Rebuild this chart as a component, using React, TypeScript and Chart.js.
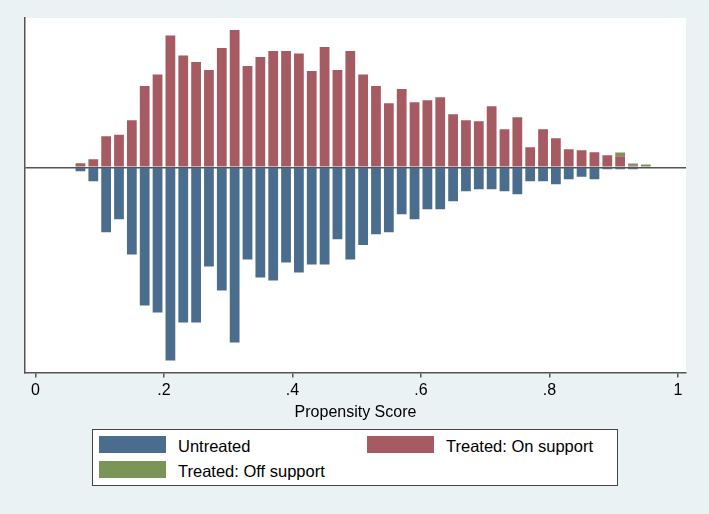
import React, { useEffect, useRef } from "react";
import { Chart, registerables } from "chart.js";

Chart.register(...registerables);

// Bin centres of the propensity-score histogram (bin width 0.02)
const binCenters = [
  0.07, 0.09, 0.11, 0.13, 0.15, 0.17, 0.19, 0.21, 0.23, 0.25,
  0.27, 0.29, 0.31, 0.33, 0.35, 0.37, 0.39, 0.41, 0.43, 0.45,
  0.47, 0.49, 0.51, 0.53, 0.55, 0.57, 0.59, 0.61, 0.63, 0.65,
  0.67, 0.69, 0.71, 0.73, 0.75, 0.77, 0.79, 0.81, 0.83, 0.85,
  0.87, 0.89, 0.91, 0.93, 0.95,
];

// Untreated frequencies (drawn below zero)
const untreated = [
  4, 14, 65, 52, 87, 138, 145, 193, 155, 155,
  99, 123, 175, 92, 110, 113, 95, 105, 97, 97,
  72, 92, 77.5, 67, 65, 47, 52, 42, 42, 34,
  24, 22, 22, 24, 27, 14, 14, 17, 12, 9.5,
  12, 2, 2, 2, 0,
];

// Treated, on support (drawn above zero)
const treatedOn = [
  4, 8, 31, 32.5, 47, 81, 92.5, 131.5, 111.5, 105,
  97, 119, 137, 101, 110, 116, 116, 113.5, 96, 120,
  97, 116, 92.5, 81, 64, 78, 65, 67, 70, 53,
  47, 46, 61, 38, 50, 20, 38, 29, 18, 17,
  15, 12, 11, 2, 0,
];

// Treated, off support (stacked on top of on-support)
const treatedOff = [
  0, 0, 0, 0, 0, 0, 0, 0, 0, 0,
  0, 0, 0, 0, 0, 0, 0, 0, 0, 0,
  0, 0, 0, 0, 0, 0, 0, 0, 0, 0,
  0, 0, 0, 0, 0, 0, 0, 0, 0, 0,
  0, 0, 3.7, 1.7, 2.7,
];

const tickValues = [0, 0.2, 0.4, 0.6, 0.8, 1];
const tickLabels = ["0", ".2", ".4", ".6", ".8", "1"];

const seriesLabels = ["Untreated", "Treated: On support", "Treated: Off support"];
const seriesColors = ["#4b6d8d", "#a65b62", "#7b9559"];

const FONT = "'Liberation Sans', Arial, Helvetica, sans-serif";

const bgPlugin = {
  id: "plotBg",
  beforeDraw(chart: any) {
    const { ctx, chartArea } = chart;
    ctx.save();
    ctx.fillStyle = "#ffffff";
    ctx.fillRect(chartArea.left - 1, chartArea.top, chartArea.right - chartArea.left + 1, chartArea.bottom - chartArea.top);
    ctx.restore();
  },
};

export default function App() {
  const canvasRef = useRef<HTMLCanvasElement>(null);

  useEffect(() => {
    if (!canvasRef.current) return;
    const mk = (vals: number[], sign: number) =>
      binCenters.map((x, i) => ({ x, y: sign * vals[i] }));
    const chart = new Chart(canvasRef.current, {
      type: "bar",
      data: {
        datasets: [
          { label: seriesLabels[0], data: mk(untreated, -1), backgroundColor: seriesColors[0], borderWidth: 0 },
          { label: seriesLabels[1], data: mk(treatedOn, 1), backgroundColor: seriesColors[1], borderWidth: 0 },
          { label: seriesLabels[2], data: mk(treatedOff, 1), backgroundColor: seriesColors[2], borderWidth: 0 },
        ],
      },
      options: {
        animation: false,
        responsive: false,
        maintainAspectRatio: false,
        devicePixelRatio: 1,
        layout: { padding: { left: 25, top: 18, right: 23, bottom: 92 } },
        datasets: { bar: { categoryPercentage: 1, barPercentage: 0.76 } },
        plugins: { legend: { display: false }, tooltip: { enabled: false } },
        scales: {
          x: {
            type: "linear",
            stacked: true,
            offset: false,
            min: -0.0163,
            max: 1.0125,
            afterBuildTicks: (axis: any) => {
              axis.ticks = tickValues.map((v) => ({ value: v }));
            },
            ticks: {
              autoSkip: false,
              maxRotation: 0,
              padding: 3,
              color: "#000",
              font: { family: FONT, size: 16 },
              callback: (_v: any, i: number) => tickLabels[i],
            },
            grid: {
              display: true,
              drawOnChartArea: false,
              drawTicks: true,
              tickLength: 5,
              color: "#555",
              lineWidth: 1.5,
              offset: false,
            },
            border: { display: true, color: "#555", width: 1.5 },
            title: {
              display: true,
              text: "Propensity Score",
              color: "#000",
              font: { family: FONT, size: 16 },
              padding: { top: 0, bottom: 0 },
            },
          },
          y: {
            stacked: true,
            min: -205,
            max: 149,
            afterBuildTicks: (axis: any) => {
              axis.ticks = [{ value: 0 }];
            },
            ticks: { display: false },
            grid: {
              display: true,
              drawTicks: false,
              color: "#555",
              lineWidth: 1.5,
            },
            border: { display: true, color: "#555", width: 1.5 },
          },
        },
      },
      plugins: [bgPlugin],
    } as any);
    return () => chart.destroy();
  }, []);

  const swatch = (color: string) => ({
    position: "absolute" as const,
    width: 67,
    height: 17,
    background: color,
  });
  const label = {
    position: "absolute" as const,
    fontFamily: FONT,
    fontSize: 16.5,
    color: "#000",
    lineHeight: "17px",
    whiteSpace: "nowrap" as const,
  };

  return (
    <div
      style={{
        position: "fixed",
        left: 0,
        top: 0,
        width: 709,
        height: 514,
        background: "#eaf2f3",
        overflow: "hidden",
      }}
    >
      <canvas ref={canvasRef} width={709} height={514} style={{ display: "block", width: 709, height: 514 }} />
      <div
        style={{
          position: "absolute",
          left: 92,
          top: 429,
          width: 524,
          height: 55,
          background: "#fff",
          border: "1.5px solid #444",
        }}
      >
        <div style={{ ...swatch(seriesColors[0]), left: 6, top: 6 }} />
        <div style={{ ...label, left: 85, top: 8 }}>{seriesLabels[0]}</div>
        <div style={{ ...swatch(seriesColors[1]), left: 274, top: 6 }} />
        <div style={{ ...label, left: 353, top: 8 }}>{seriesLabels[1]}</div>
        <div style={{ ...swatch(seriesColors[2]), left: 6, top: 31 }} />
        <div style={{ ...label, left: 85, top: 33 }}>{seriesLabels[2]}</div>
      </div>
    </div>
  );
}
